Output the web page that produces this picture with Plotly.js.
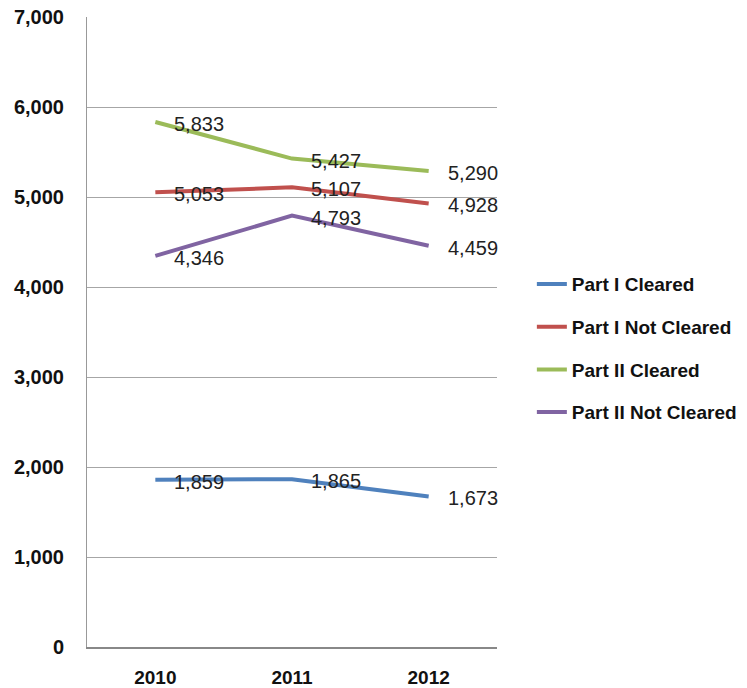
<!DOCTYPE html>
<html>
<head>
<meta charset="utf-8">
<script src="https://cdn.plot.ly/plotly-3.0.1.min.js"></script>
<style>html,body{margin:0;padding:0;background:#fff;}#chart{width:747px;height:688px;}</style>
</head>
<body>
<div id="chart"></div>
<script>
const years = ['2010', '2011', '2012'];
const partICleared = [1859, 1865, 1673];
const partINotCleared = [5053, 5107, 4928];
const partIICleared = [5833, 5427, 5290];
const partIINotCleared = [4346, 4793, 4459];
const seriesNames = ['Part I Cleared', 'Part I Not Cleared', 'Part II Cleared', 'Part II Not Cleared'];
const seriesColors = ['#4F81BD', '#C0504D', '#9BBB59', '#8064A2'];
const yTicks = [0, 1000, 2000, 3000, 4000, 5000, 6000, 7000];

const allSeries = [partICleared, partINotCleared, partIICleared, partIINotCleared];
const fmt = v => v.toLocaleString('en-US');

const traces = allSeries.map((vals, i) => ({
  type: 'scatter',
  mode: 'lines',
  x: years,
  y: vals,
  name: seriesNames[i],
  legendgroup: 'g' + i,
  line: {color: seriesColors[i], width: 4},
  hoverinfo: 'none'
}));

const annotations = [];
allSeries.forEach(vals => {
  vals.forEach((v, j) => {
    annotations.push({
      xref: 'x', yref: 'y',
      x: j, y: v,
      text: fmt(v),
      showarrow: false,
      xanchor: 'left', yanchor: 'middle',
      xshift: 17, yshift: -2,
      font: {family: 'Liberation Sans, Arial, sans-serif', size: 20, color: '#222'}
    });
  });
});

const layout = {
  width: 747,
  height: 688,
  margin: {l: 87, r: 250, t: 17, b: 41},
  paper_bgcolor: '#fff',
  plot_bgcolor: '#fff',
  showlegend: true,
  annotations: annotations,
  legend: {
    xref: 'container', yref: 'container',
    x: 0.712, xanchor: 'left',
    y: 0.494, yanchor: 'middle',
    tracegroupgap: 15,
    font: {family: 'Liberation Sans, Arial, sans-serif', size: 19, color: '#111', weight: 'bold'}
  },
  xaxis: {
    type: 'category',
    range: [-0.5, 2.5],
    showgrid: false,
    showline: true,
    linecolor: '#888',
    linewidth: 1.5,
    ticks: 'outside',
    ticklen: 13,
    tickcolor: 'rgba(0,0,0,0)',
    tickfont: {family: 'Liberation Sans, Arial, sans-serif', size: 19, color: '#111', weight: 'bold'},
    zeroline: false,
    automargin: false,
    fixedrange: true
  },
  yaxis: {
    range: [0, 7000],
    tickvals: yTicks,
    ticktext: yTicks.map(fmt),
    showgrid: true,
    gridcolor: '#a6a6a6',
    gridwidth: 1,
    showline: true,
    linecolor: '#999',
    linewidth: 1,
    ticks: 'outside',
    ticklen: 18,
    tickcolor: 'rgba(0,0,0,0)',
    tickfont: {family: 'Liberation Sans, Arial, sans-serif', size: 20, color: '#111', weight: 'bold'},
    zeroline: false,
    automargin: false,
    fixedrange: true
  }
};

Plotly.newPlot('chart', traces, layout, {staticPlot: true, displayModeBar: false});
</script>
</body>
</html>
